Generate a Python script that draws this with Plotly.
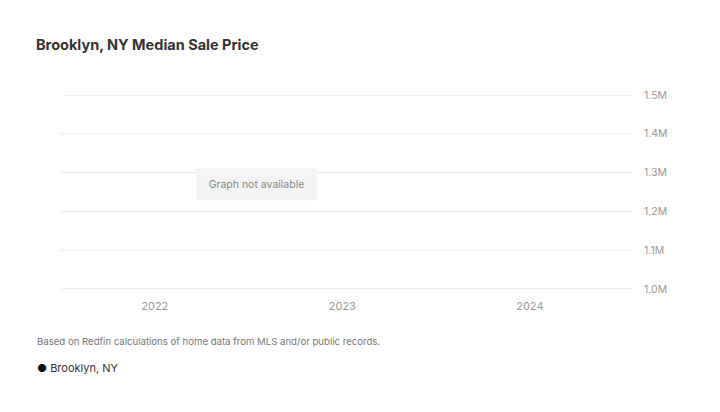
import plotly.graph_objects as go

title_text = "Brooklyn, NY Median Sale Price"
series_name = "Brooklyn, NY"
years = [2022, 2023, 2024]
year_labels = ["2022", "2023", "2024"]
y_ticks = [1.0e6, 1.1e6, 1.2e6, 1.3e6, 1.4e6, 1.5e6]
y_labels = ["1.0M", "1.1M", "1.2M", "1.3M", "1.4M", "1.5M"]
# No series values available ("Graph not available")
series_x = [None]
series_y = [None]
footnote = "Based on Redfin calculations of home data from MLS and/or public records."
notice = "Graph not available"

FONT = "Inter"
# page body has an 8px margin, so the figure is drawn 8px in from the window edge
W, H = 712, 404
L, R, T, B = 53, 625, 87, 281
PW, PH = R - L, B - T

fig = go.Figure()
fig.add_trace(go.Scatter(
    x=series_x, y=series_y, mode="markers", name=series_name,
    marker=dict(color="#111111", size=7), showlegend=False,
))

grid_shapes = [
    dict(type="line", xref="paper", yref="y", x0=0, x1=1, y0=v, y1=v,
         line=dict(color="#dcdcdc" if i == 0 else "#e8e8e8", width=1), layer="below")
    for i, v in enumerate(y_ticks)
]

fig.update_layout(
    width=W, height=H,
    paper_bgcolor="white", plot_bgcolor="white",
    margin=dict(l=L, r=W - R, t=T, b=H - B),
    font=dict(family=FONT, color="#999999", size=11),
    title=dict(text=title_text, x=28 / W, xanchor="left", y=1 - 37 / H, yanchor="middle",
               font=dict(family=FONT, size=14.5, color="#333333", weight="bold")),
    showlegend=False,
    xaxis=dict(range=[2021.5, 2024.55], tickvals=years, ticktext=year_labels,
               showgrid=False, zeroline=False, showline=False, ticks="",
               ticklabelstandoff=9, tickfont=dict(size=11, color="#999999"), fixedrange=True),
    yaxis=dict(range=[1.0e6, 1.5e6], side="right", tickvals=y_ticks, ticktext=y_labels,
               showgrid=False, zeroline=False,
               showline=False, ticks="", ticklabelstandoff=10,
               tickfont=dict(size=10.5, color="#999999"), fixedrange=True),
    shapes=grid_shapes,
    annotations=[
        dict(text=notice, xref="x", yref="y", x=2022.54, y=1.27e6,
             showarrow=False, font=dict(family=FONT, size=10.5, color="#888888"),
             bgcolor="#f4f4f4", borderpad=9, width=101),
        dict(text=footnote, xref="paper", yref="paper", x=(27 - L) / PW, xanchor="left",
             y=-(333 - B) / PH, yanchor="middle", showarrow=False,
             font=dict(family=FONT, size=9.6, color="#777777")),
        dict(text="<span style='color:#111111'>●</span> " + series_name,
             xref="paper", yref="paper", x=(27 - L) / PW, xanchor="left",
             y=-(360 - B) / PH, yanchor="middle", showarrow=False,
             font=dict(family=FONT, size=11, color="#333333")),
    ],
)

fig.write_html("out.html")
